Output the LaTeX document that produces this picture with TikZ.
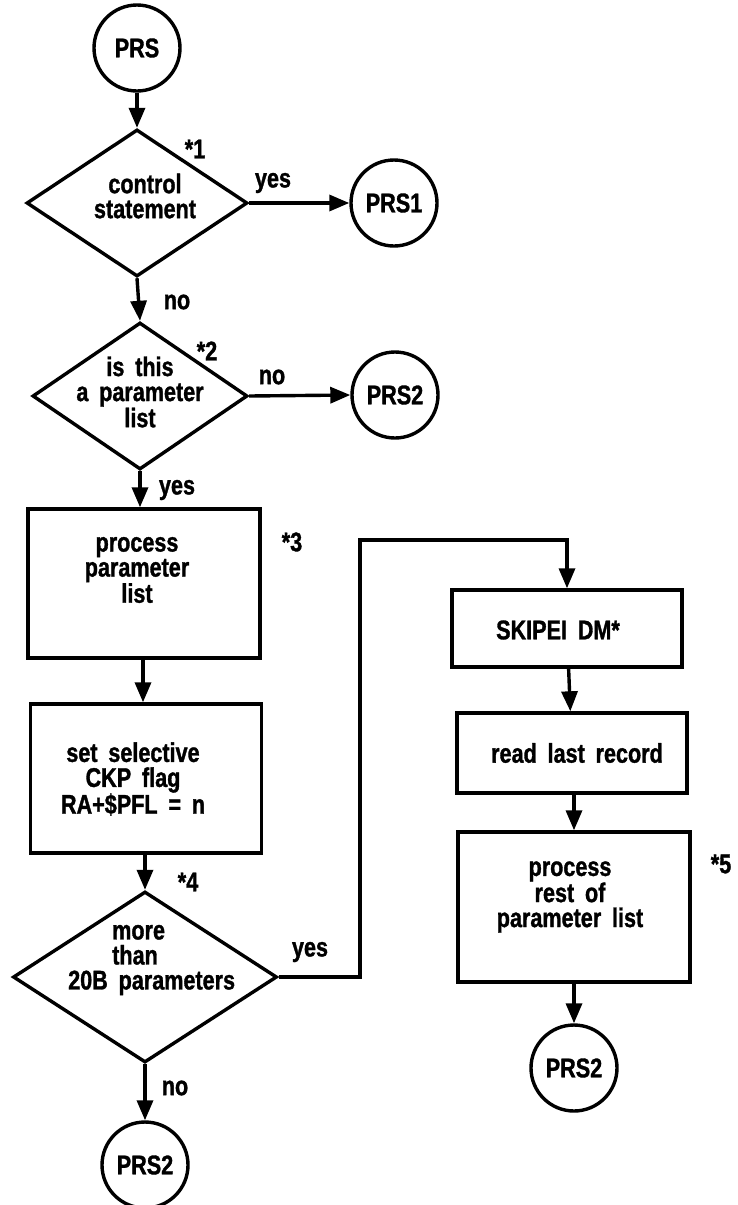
\documentclass[tikz,border=0pt]{standalone}
\usepackage{fontspec}
\setmainfont{Liberation Sans}[FakeStretch=0.8, WordSpace=1.8, FakeBold=1.2]
\usetikzlibrary{shapes.geometric, arrows.meta}

\begin{document}
\begin{tikzpicture}[x=1pt, y=-1pt,
  txt/.style={font=\fontsize{27}{25}\selectfont\bfseries, inner sep=0pt, align=center},
  lbl/.style={font=\fontsize{27}{25}\selectfont\bfseries, inner sep=0pt},
  stroke/.style={draw, line width=3.4pt},
  conn/.style={circle, stroke, minimum size=86pt, inner sep=0pt,
    font=\fontsize{27}{25}\selectfont\bfseries},
  decision/.style={diamond, stroke, inner sep=0pt},
  procbox/.style={rectangle, stroke, inner sep=0pt},
  arr/.style={line width=3.4pt, -{Triangle[length=20pt,width=16pt]}}]

  \fill[white] (0,0) rectangle (738,1205);
  \useasboundingbox (0,0) rectangle (738,1205);

  % left column
  \node[conn] (prs) at (137,48) {PRS};

  \node[decision, minimum width=221pt, minimum height=147pt] (d1) at (137,203) {};
  \node[txt] (d1t) at (145,196) {control\\statement};
  \node[conn] (prs1) at (394,203) {PRS1};

  \node[decision, minimum width=215pt, minimum height=147pt] (d2) at (140,396) {};
  \node[txt] (d2t) at (140,392) {is this\\a parameter\\list};
  \node[conn] (prs2a) at (395,395) {PRS2};

  \node[procbox, minimum width=232pt, minimum height=149pt] (b1) at (144,583.5) {};
  \node[txt] (b1t) at (137,570) {process\\parameter\\list};

  \node[procbox, minimum width=231pt, minimum height=149pt] (b2) at (146,778.5) {};
  \node[txt] (b2t) at (133,779) {set selective\\CKP flag\\RA+\$PFL = n};

  \node[decision, minimum width=264pt, minimum height=171pt] (d3) at (145,977) {};
  \node[txt, align=left, anchor=west] (d3t) at (68,960)
    {\hspace{44pt}more\\\hspace{44pt}than\\20B parameters};

  \node[conn] (prs2b) at (145,1165) {PRS2};

  % right column
  \node[procbox, minimum width=230pt, minimum height=77pt] (skip) at (567,628.5) {};
  \node[txt] (skipt) at (558,630) {SKIPEI DM*};

  \node[procbox, minimum width=230pt, minimum height=80pt] (read) at (572,753) {};
  \node[txt] (readt) at (577,753) {read last record};

  \node[procbox, minimum width=232pt, minimum height=150pt] (rest) at (574,907) {};
  \node[txt] (restt) at (570,897) {process\\rest of\\parameter list};

  \node[conn] (prs2c) at (574,1068) {PRS2};

  % annotations
  \node[lbl] (n1) at (195,149) {*1};
  \node[lbl] (n2) at (207,351) {*2};
  \node[lbl] (n3) at (292,542) {*3};
  \node[lbl] (n4) at (188,882) {*4};
  \node[lbl] (n5) at (721,864) {*5};

  \node[lbl] (y1) at (273,183) {yes};
  \node[lbl] (no1) at (177,302) {no};
  \node[lbl] (no2) at (272,377) {no};
  \node[lbl] (y2) at (177,490) {yes};
  \node[lbl] (y3) at (310,952) {yes};
  \node[lbl] (no3) at (175,1088) {no};

  % connectors
  \coordinate (loop) at (360,540);

  \draw[arr] (prs) -- (d1.north);
  \draw[arr] (d1.east) -- (prs1.west);
  \draw[arr] (d1.south) -- (d2.north);
  \draw[arr] (d2.east) -- (prs2a.west);
  \draw[arr] (d2.south) -- (d2.south |- b1.north);
  \draw[arr] (b1.south -| 143,0) -- (b2.north -| 143,0);
  \draw[arr] (b2.south -| d3.north) -- (d3.north);
  \draw[arr] (d3.east) -| (loop) -| (skip.north);
  \draw[arr] (d3.south) -- (prs2b);
  \draw[arr] (skip) -- (read);
  \draw[arr] (read.south -| rest.north) -- (rest.north);
  \draw[arr] (rest) -- (prs2c);
\end{tikzpicture}
\end{document}
